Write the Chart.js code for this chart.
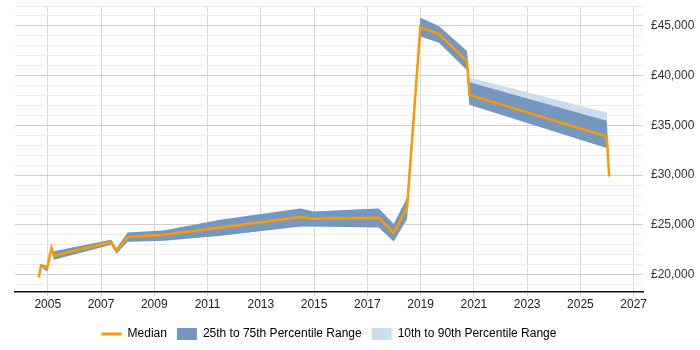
<!DOCTYPE html>
<html>
<head>
<meta charset="utf-8">
<script src="https://cdn.jsdelivr.net/npm/chart.js@4.4.0/dist/chart.umd.min.js"></script>
<style>
  html, body { margin: 0; padding: 0; background: #fff; }
  #wrap { width: 700px; height: 350px; }
</style>
</head>
<body>
<div id="wrap"><canvas id="salary-chart"></canvas></div>
<script>
// values, x is a decimal year
const years  = [2004.66, 2004.75, 2004.98, 2005.14, 2005.23, 2007.38, 2007.58, 2008.00, 2009.35, 2011.48, 2014.49, 2014.98, 2017.43, 2017.99, 2018.49, 2018.99, 2019.68, 2020.74, 2020.83, 2025.99, 2026.08];
const median = [19730, 20930, 20670, 22680, 21910, 23280, 22410, 23790, 24020, 24750, 25790, 25620, 25720, 24190, 26700, 44870, 44170, 41490, 38070, 33890, 29870];
const p75    = [19800, 21050, 20900, 22750, 22350, 23500, 22650, 24250, 24450, 25520, 26660, 26360, 26660, 25090, 27700, 45830, 45000, 42490, 39350, 35460, 30050];
const p25    = [19650, 20800, 20300, 22550, 21500, 23000, 22100, 23300, 23410, 23920, 24850, 24850, 24750, 23340, 25590, 43930, 43320, 40580, 37070, 32720, 29700];
const p90    = [19800, 21050, 20900, 22750, 22350, 23500, 22650, 24250, 24450, 25520, 26660, 26360, 26660, 25090, 27700, 45830, 45000, 42490, 39810, 36290, 30100];
const p10    = [19650, 20800, 20300, 22550, 21500, 23000, 22100, 23300, 23410, 23920, 24850, 24850, 24750, 23340, 25590, 43930, 43320, 40580, 37070, 32720, 29300];

const yearTicks   = [2005, 2007, 2009, 2011, 2013, 2015, 2017, 2019, 2021, 2023, 2025, 2027];
const salaryTicks = [20000, 25000, 30000, 35000, 40000, 45000];

const orange = 'rgb(255,153,0)';
const dark   = 'rgb(116,151,192)';
const light  = 'rgb(204,221,238)';

Chart.defaults.font.family = '"Liberation Sans", Arial, sans-serif';
Chart.defaults.font.size = 12;

function points(vals) {
  return years.map((x, i) => ({x: x, y: vals[i]}));
}

// minor lines every 1000, labels only on the 5000s
let gridValues = [];
for (let v = 19000; v <= 47000; v += 1000) {
  gridValues.push(v);
}

const ctx = document.getElementById('salary-chart').getContext('2d');

const chart = new Chart(ctx, {
  type: 'line',
  data: {
    datasets: [
      {
        label: 'Median',
        data: points(median),
        borderColor: orange,
        borderWidth: 2.5,
        pointRadius: 0,
        fill: false
      },
      {
        label: '25th to 75th Percentile Range',
        data: points(p75),
        borderWidth: 0,
        borderColor: dark,
        backgroundColor: dark,
        pointRadius: 0,
        fill: '+1'
      },
      {
        label: 'p25',
        data: points(p25),
        borderWidth: 0,
        borderColor: dark,
        pointRadius: 0,
        fill: false
      },
      {
        label: '10th to 90th Percentile Range',
        data: points(p90),
        borderWidth: 0,
        borderColor: light,
        backgroundColor: light,
        pointRadius: 0,
        fill: '+1'
      },
      {
        label: 'p10',
        data: points(p10),
        borderWidth: 0,
        borderColor: light,
        pointRadius: 0,
        fill: false
      }
    ]
  },
  options: {
    responsive: true,
    maintainAspectRatio: false,
    animation: false,
    layout: {
      padding: {left: 15, top: 6, right: 0, bottom: 0}
    },
    elements: {
      line: { tension: 0 }
    },
    scales: {
      x: {
        type: 'linear',
        min: 2003.77,
        max: 2027.35,
        afterBuildTicks: (scale) => {
          scale.ticks = yearTicks.map(v => ({value: v}));
        },
        afterFit: (scale) => {
          scale.height = 26;
          scale.paddingLeft = 0;
          scale.paddingRight = 0;
        },
        ticks: {
          color: '#222',
          padding: 1,
          maxRotation: 0,
          callback: (v) => String(v)
        },
        grid: {
          color: '#d8d8d8',
          tickLength: 4,
          drawTicks: true
        },
        border: {
          color: '#111',
          width: 1.5
        }
      },
      y: {
        position: 'right',
        min: 18260,
        max: 47000,
        afterBuildTicks: (scale) => {
          scale.ticks = gridValues.map(v => ({value: v}));
        },
        afterFit: (scale) => {
          scale.width = 57;
          scale.paddingTop = 0;
          scale.paddingBottom = 0;
        },
        ticks: {
          color: '#333',
          padding: 8,
          autoSkip: false,
          callback: (v) => salaryTicks.includes(v) ? '£' + v.toLocaleString('en-GB') : ''
        },
        grid: {
          drawTicks: false,
          color: (c) => (c.tick && c.tick.value % 5000 === 0) ? '#d0d0d0' : '#ececec'
        },
        border: { display: false }
      }
    },
    plugins: {
      tooltip: { enabled: false },
      legend: {
        position: 'bottom',
        fullSize: false,
        labels: {
          color: '#333',
          usePointStyle: true,
          pointStyleWidth: 20,
          boxHeight: 12,
          padding: 10,
          generateLabels: () => [
            {text: 'Median', fillStyle: orange, strokeStyle: orange, lineWidth: 3, pointStyle: 'line', hidden: false, datasetIndex: 0},
            {text: '25th to 75th Percentile Range', fillStyle: dark, strokeStyle: dark, lineWidth: 0, pointStyle: 'rect', hidden: false, datasetIndex: 1},
            {text: '10th to 90th Percentile Range', fillStyle: light, strokeStyle: light, lineWidth: 0, pointStyle: 'rect', hidden: false, datasetIndex: 3}
          ]
        }
      }
    }
  }
});
</script>
</body>
</html>
